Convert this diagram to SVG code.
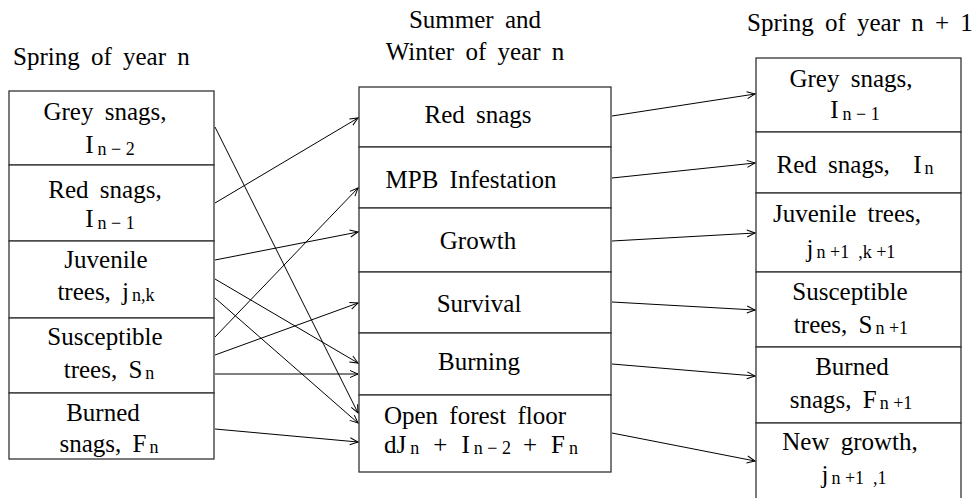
<svg xmlns="http://www.w3.org/2000/svg" width="980" height="498" viewBox="0 0 980 498">
<style>
text{font-family:'Liberation Serif','DejaVu Serif',serif;font-size:25px;fill:#000;word-spacing:5px}
.c{text-anchor:middle}
.s{font-size:18px;word-spacing:0}
rect{fill:#fff;stroke:#333;stroke-width:1.3}
.cn line{stroke:#000;stroke-width:1;marker-end:url(#arr)}
</style>
<defs>
<marker id="arr" markerUnits="userSpaceOnUse" markerWidth="10" markerHeight="10" refX="9" refY="4" orient="auto" viewBox="0 0 10 8">
<path d="M1,0.5 L9,4 L1,7.5" fill="none" stroke="#000" stroke-width="1"/>
</marker>
</defs>
<rect x="0" y="0" width="980" height="498" style="stroke:none"/>
<g font-family="Liberation Serif, DejaVu Serif, serif">
<g id="titles">
<text x="13" y="65">Spring of year n</text>
<text class="c" x="475" y="28">Summer and</text>
<text class="c" x="475" y="60">Winter of year n</text>
<text x="747" y="31">Spring of year  n + 1</text>
</g>
<g id="left-grey"><rect x="9" y="91" width="205" height="74"/>
<text class="c" x="105" y="120">Grey snags,</text>
<text class="c" x="110" y="153">I<tspan class="s" dy="2" dx="4">n − 2</tspan></text></g>
<g id="left-red"><rect x="9" y="165" width="205" height="76"/>
<text class="c" x="105" y="198">Red snags,</text>
<text class="c" x="110" y="227">I<tspan class="s" dy="2" dx="4">n − 1</tspan></text></g>
<g id="left-juvenile"><rect x="9" y="241" width="205" height="77"/>
<text class="c" x="106" y="268">Juvenile</text>
<text class="c" x="106" y="300">trees,  j<tspan class="s" dy="1" dx="3">n,k</tspan></text></g>
<g id="left-susceptible"><rect x="9" y="318" width="205" height="75"/>
<text class="c" x="105" y="345">Susceptible</text>
<text class="c" x="109" y="378">trees,  S<tspan class="s" dy="1" dx="3">n</tspan></text></g>
<g id="left-burned"><rect x="9" y="393" width="205" height="66"/>
<text class="c" x="103" y="421">Burned</text>
<text class="c" x="109" y="452">snags,  F<tspan class="s" dy="1" dx="3">n</tspan></text></g>

<g id="mid-red"><rect x="359" y="87" width="252" height="60"/>
<text class="c" x="478" y="123">Red snags</text></g>
<g id="mid-mpb"><rect x="359" y="147" width="252" height="61"/>
<text class="c" x="471" y="188">MPB Infestation</text></g>
<g id="mid-growth"><rect x="359" y="208" width="252" height="64"/>
<text class="c" x="478" y="249">Growth</text></g>
<g id="mid-survival"><rect x="359" y="272" width="252" height="61"/>
<text class="c" x="479" y="312">Survival</text></g>
<g id="mid-burning"><rect x="359" y="333" width="252" height="62"/>
<text class="c" x="479" y="370">Burning</text></g>
<g id="mid-open"><rect x="359" y="395" width="252" height="77"/>
<text class="c" x="475" y="424">Open forest floor</text>
<text class="c" x="481" y="453">dJ<tspan class="s" dy="1" dx="4">n</tspan><tspan dy="-1" dx="14">+</tspan><tspan dx="14">I</tspan><tspan class="s" dy="1" dx="4">n − 2</tspan><tspan dy="-1" dx="12">+</tspan><tspan dx="14">F</tspan><tspan class="s" dy="1" dx="4">n</tspan></text></g>

<g id="right-grey"><rect x="756" y="58" width="205" height="74"/>
<text class="c" x="851" y="87">Grey snags,</text>
<text class="c" x="855" y="118">I<tspan class="s" dy="2" dx="4">n − 1</tspan></text></g>
<g id="right-red"><rect x="756" y="132" width="205" height="61"/>
<text class="c" x="855" y="173">Red snags,<tspan dx="12"> I</tspan><tspan class="s" dy="1" dx="3">n</tspan></text></g>
<g id="right-juvenile"><rect x="756" y="193" width="205" height="79"/>
<text class="c" x="847" y="222">Juvenile trees,</text>
<text class="c" x="851" y="257">j<tspan class="s" dy="1" dx="3">n +1</tspan><tspan class="s" dx="9">,k +1</tspan></text></g>
<g id="right-susceptible"><rect x="756" y="272" width="205" height="75"/>
<text class="c" x="850" y="300">Susceptible</text>
<text class="c" x="851" y="333">trees,  S<tspan class="s" dy="1" dx="3">n +1</tspan></text></g>
<g id="right-burned"><rect x="756" y="347" width="205" height="76"/>
<text class="c" x="852" y="375">Burned</text>
<text class="c" x="851" y="408">snags,  F<tspan class="s" dy="1" dx="3">n +1</tspan></text></g>
<g id="right-new"><rect x="756" y="423" width="205" height="90"/>
<text class="c" x="850" y="450">New growth,</text>
<text class="c" x="854" y="483">j<tspan class="s" dy="1" dx="3">n +1</tspan><tspan class="s" dx="9">,1</tspan></text></g>
</g>
<g id="connectors" class="cn">
<line x1="215" y1="127" x2="358" y2="413"/>
<line x1="215" y1="203" x2="358" y2="118"/>
<line x1="215" y1="260" x2="358" y2="232"/>
<line x1="215" y1="279" x2="358" y2="363"/>
<line x1="215" y1="298" x2="358" y2="423"/>
<line x1="215" y1="337" x2="358" y2="188"/>
<line x1="215" y1="355" x2="358" y2="303"/>
<line x1="215" y1="374" x2="358" y2="374"/>
<line x1="215" y1="429" x2="358" y2="442"/>
<line x1="612" y1="116" x2="755" y2="94"/>
<line x1="612" y1="178" x2="755" y2="163"/>
<line x1="612" y1="241" x2="755" y2="233"/>
<line x1="612" y1="302" x2="755" y2="310"/>
<line x1="612" y1="364" x2="755" y2="376"/>
<line x1="612" y1="433" x2="755" y2="461"/>
</g>
</svg>
